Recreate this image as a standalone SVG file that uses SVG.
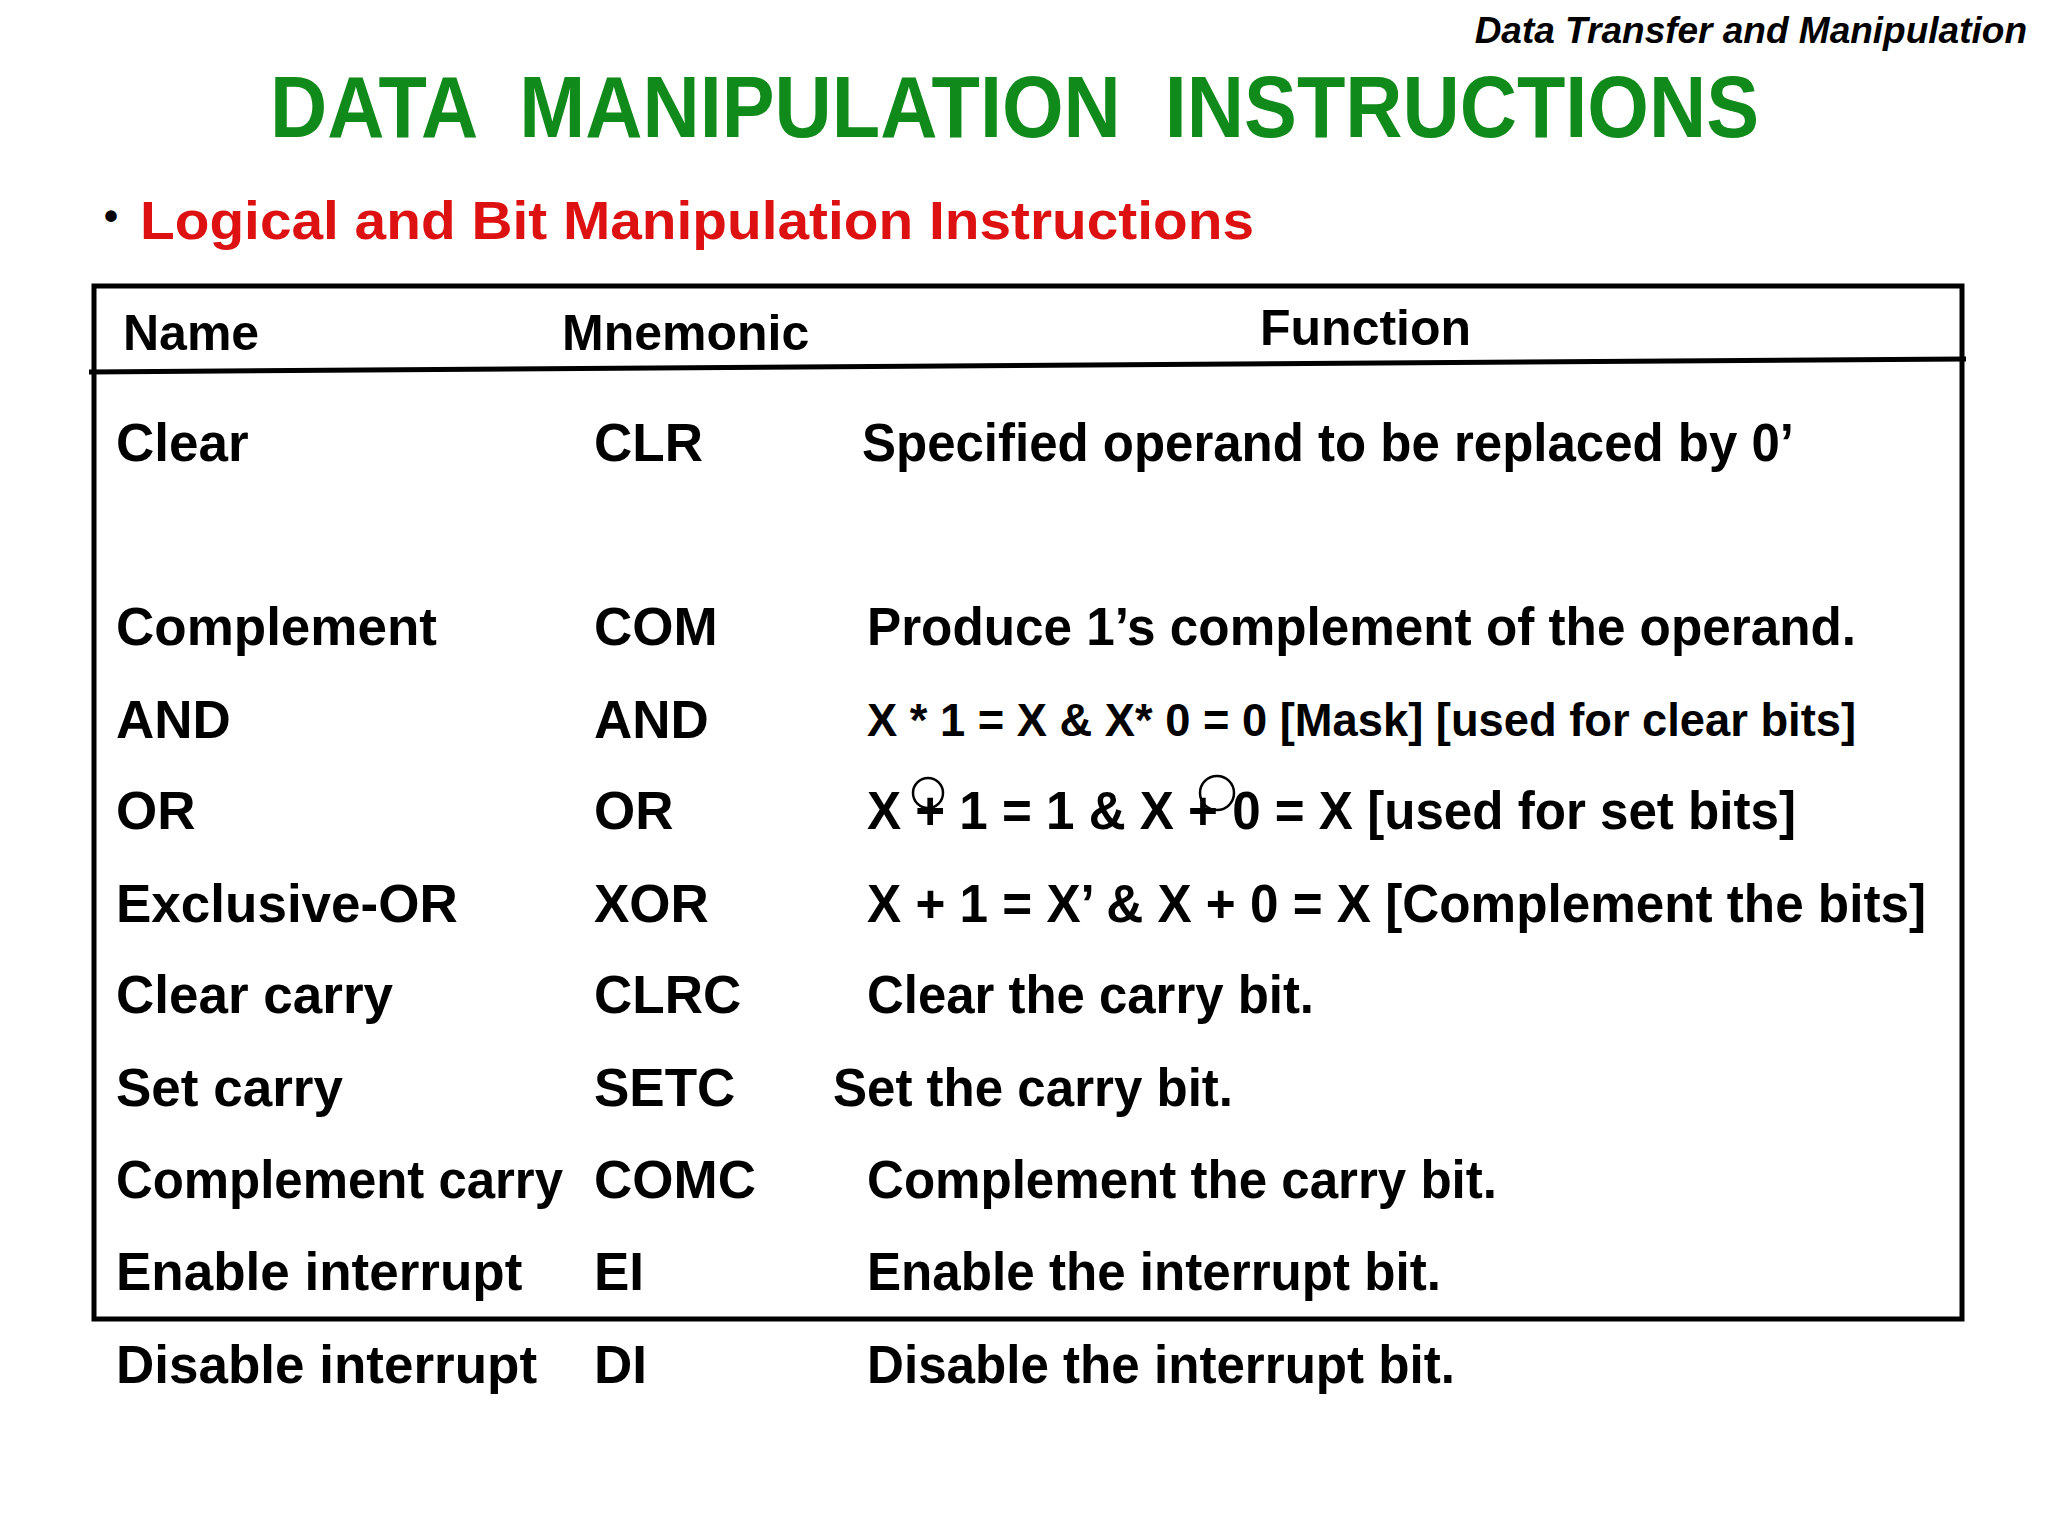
<svg xmlns="http://www.w3.org/2000/svg" width="2048" height="1536" viewBox="0 0 2048 1536">
<style>
text{font-family:"Liberation Sans",Arial,sans-serif;font-weight:bold;fill:#000}
.r{font-size:53px}
.h{font-size:50px}
</style>
<rect width="2048" height="1536" fill="#fff"/>
<text x="2027" y="43" text-anchor="end" font-size="37" font-style="italic">Data Transfer and Manipulation</text>
<text x="270" y="137" font-size="88" style="fill:#108a1a" textLength="1489" lengthAdjust="spacingAndGlyphs" xml:space="preserve">DATA  MANIPULATION  INSTRUCTIONS</text>
<text x="104" y="230" font-size="40">•</text>
<text x="140" y="239" font-size="53" style="fill:#dd1111" textLength="1114" lengthAdjust="spacingAndGlyphs">Logical and Bit Manipulation Instructions</text>
<g id="table">
<rect x="94" y="286" width="1868" height="1033" fill="none" stroke="#000" stroke-width="5"/>
<line x1="89" y1="372" x2="1966" y2="359" stroke="#000" stroke-width="5"/>
<text class="h" x="123" y="350">Name</text>
<text class="h" x="562" y="350">Mnemonic</text>
<text class="h" x="1260" y="345">Function</text>
</g>
<g id="rows" class="r">
<text class="r" x="116" y="461">Clear</text><text class="r" x="594" y="461">CLR</text><text class="r" x="862" y="461" textLength="932" lengthAdjust="spacingAndGlyphs">Specified operand to be replaced by 0’</text>
<text class="r" x="116" y="645">Complement</text><text class="r" x="594" y="645">COM</text><text class="r" x="867" y="645" textLength="989" lengthAdjust="spacingAndGlyphs">Produce 1’s complement of the operand.</text>
<text class="r" x="116" y="738">AND</text><text class="r" x="594" y="738">AND</text><text x="867" y="736" font-size="46" textLength="989" lengthAdjust="spacingAndGlyphs">X * 1 = X &amp; X* 0 = 0 [Mask] [used for clear bits]</text>
<text class="r" x="116" y="829">OR</text><text class="r" x="594" y="829">OR</text><text class="r" x="867" y="829" textLength="929" lengthAdjust="spacingAndGlyphs">X + 1 = 1 &amp; X + 0 = X [used for set bits]</text>
<text class="r" x="116" y="922">Exclusive-OR</text><text class="r" x="594" y="922">XOR</text><text class="r" x="867" y="922" textLength="1059" lengthAdjust="spacingAndGlyphs">X + 1 = X’ &amp; X + 0 = X [Complement the bits]</text>
<text class="r" x="116" y="1013">Clear carry</text><text class="r" x="594" y="1013">CLRC</text><text class="r" x="867" y="1013" textLength="447" lengthAdjust="spacingAndGlyphs">Clear the carry bit.</text>
<text class="r" x="116" y="1106">Set carry</text><text class="r" x="594" y="1106">SETC</text><text class="r" x="833" y="1106" textLength="400" lengthAdjust="spacingAndGlyphs">Set the carry bit.</text>
<text class="r" x="116" y="1198" textLength="447" lengthAdjust="spacingAndGlyphs">Complement carry</text><text class="r" x="594" y="1198">COMC</text><text class="r" x="867" y="1198" textLength="630" lengthAdjust="spacingAndGlyphs">Complement the carry bit.</text>
<text class="r" x="116" y="1290">Enable interrupt</text><text class="r" x="594" y="1290">EI</text><text class="r" x="867" y="1290" textLength="574" lengthAdjust="spacingAndGlyphs">Enable the interrupt bit.</text>
<text class="r" x="116" y="1383">Disable interrupt</text><text class="r" x="594" y="1383">DI</text><text class="r" x="867" y="1383" textLength="588" lengthAdjust="spacingAndGlyphs">Disable the interrupt bit.</text>
</g>
<g id="marks" fill="none" stroke="#000" stroke-width="2.5">
<circle cx="928" cy="793" r="15"/>
<circle cx="1217" cy="793" r="17"/>
</g>
</svg>
